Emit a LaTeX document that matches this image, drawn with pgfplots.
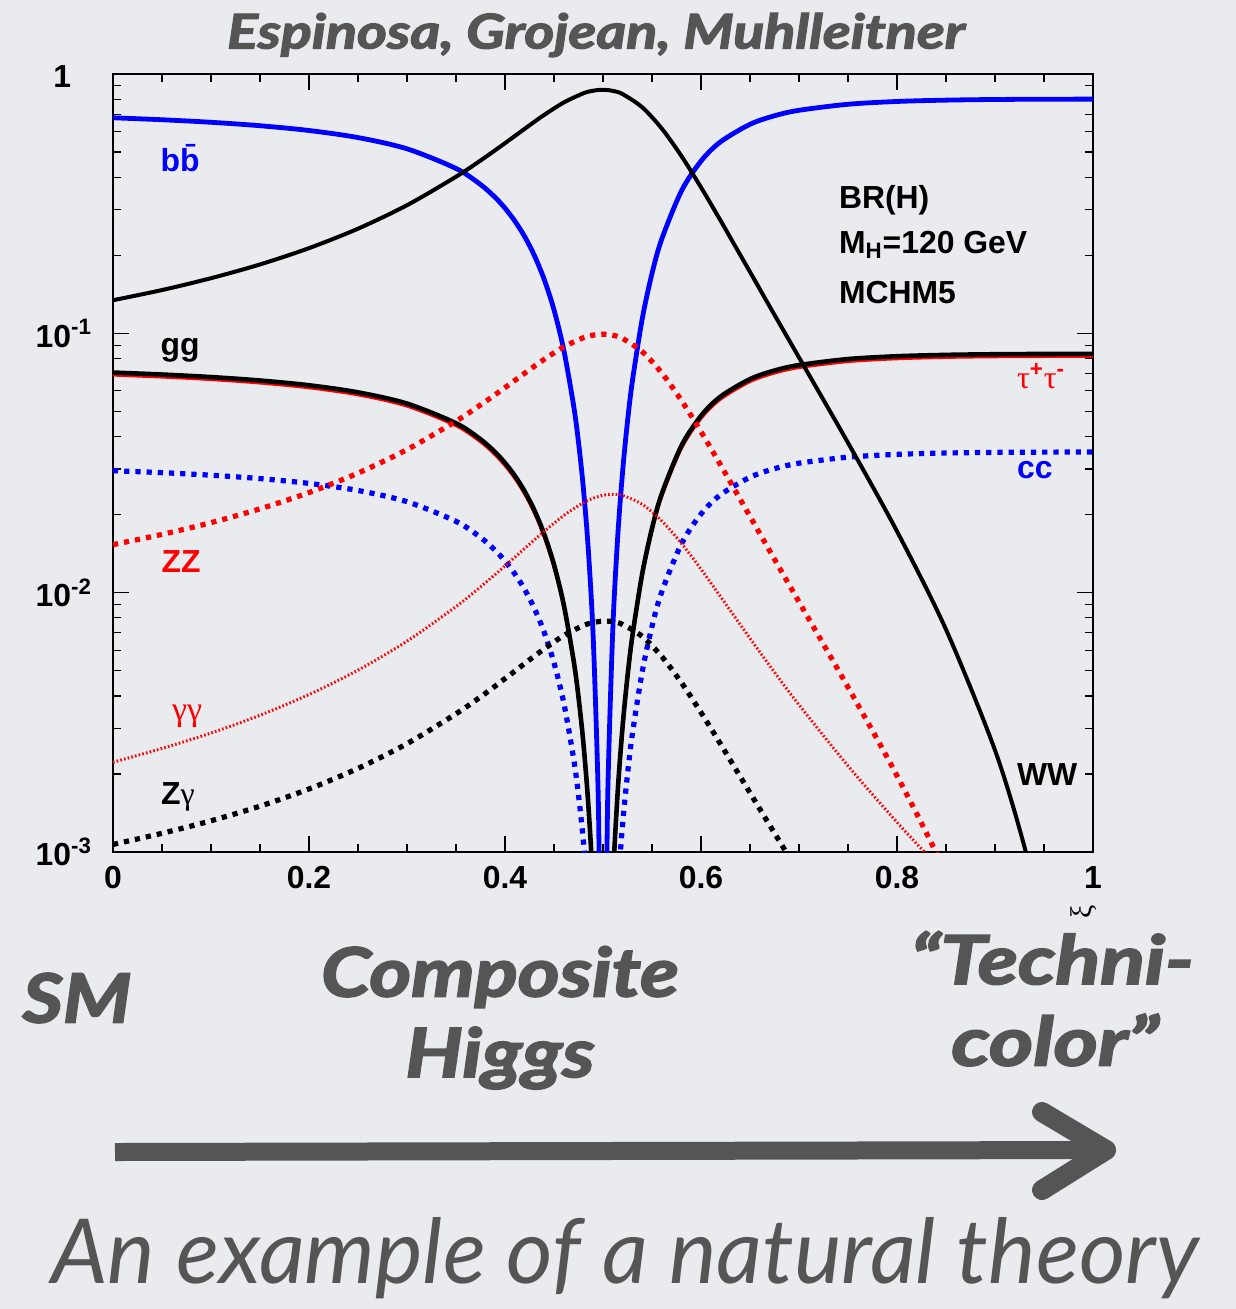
\documentclass[border=0pt]{standalone}
\usepackage{fontspec}
\usepackage{graphicx}
\usepackage{pgfplots}
\usepackage{pgfplotstable}
\pgfplotsset{compat=1.18}
\setmainfont{Liberation Sans}
\newfontfamily\gill{Lato}[BoldItalicFeatures={FakeBold=2.5}]
\newfontfamily\gilllight{Lato}
\newfontfamily\sym{Liberation Serif}
\definecolor{bg}{RGB}{234,235,239}
\definecolor{slate}{RGB}{85,85,85}
\definecolor{rootblue}{RGB}{0,0,255}
\definecolor{rootred}{RGB}{255,0,0}
\newcommand{\pf}{\fontsize{16}{18}\selectfont\bfseries}
\newcommand{\slidefont}{\gill\bfseries\itshape\fontsize{34}{40}\selectfont}

% fermionic channels (zero at xi = 0.5)
\pgfplotstableread{
x bb tt cc gg
0      0.678    0.0691    0.02954   0.0706
0.05   0.6663   0.0679    0.02903   0.06939
0.1    0.6514   0.06639   0.02838   0.06783
0.15   0.6319   0.0644    0.02754   0.0658
0.2    0.6056   0.06172   0.02639   0.06306
0.25   0.5687   0.05796   0.02478   0.05922
0.3    0.5147   0.05246   0.02243   0.0536
0.35   0.4323   0.04406   0.01884   0.04502
0.375  0.375    0.03822   0.01634   0.03905
0.39   0.3341   0.03405   0.01456   0.03479
0.4    0.3038   0.03096   0.01324   0.03164
0.41   0.2712   0.02764   0.01182   0.02824
0.42   0.2363   0.02408   0.0103    0.0246
0.43   0.1994   0.02033   0.00869   0.02077
0.44   0.1614   0.01645   0.007032  0.0168
0.45   0.1231   0.01255   0.005364  0.01282
0.46   0.08615  0.008781  0.003754  0.008972
0.47   0.05265  0.005366  0.002294  0.005482
0.475  0.03798  0.003871  0.001655  0.003955
0.48   0.02519  0.002567  0.001098  0.002623
0.485  0.01464  0.001492  0.000638  0.001524
0.49   0.0067   0.000683  0.000292  0.000698
0.495  0.001719 0.000175  0.000075  0.000179
0.4975 0.000435 0.0000443 0.0000189 0.0000453
0.5025 0.000443 0.0000452 0.0000193 0.0000462
0.505  0.001788 0.000182  0.000078  0.000186
0.51   0.007247 0.000739  0.000316  0.000755
0.515  0.01645  0.001676  0.000717  0.001713
0.52   0.02935  0.002991  0.001279  0.003056
0.525  0.04582  0.00467   0.001997  0.004771
0.53   0.06561  0.006687  0.002859  0.006832
0.54   0.1137   0.01159   0.004955  0.01184
0.55   0.1703   0.01736   0.00742   0.01773
0.56   0.2314   0.02359   0.01009   0.0241
0.58   0.3539   0.03607   0.01542   0.03685
0.6    0.4617   0.04706   0.02012   0.04808
0.62   0.548    0.05585   0.02388   0.05707
0.65   0.6399   0.06521   0.02788   0.06663
0.675  0.6903   0.07036   0.03008   0.07189
0.7    0.7247   0.07386   0.03158   0.07547
0.75   0.7645   0.07791   0.03331   0.07961
0.8    0.7837   0.07987   0.03415   0.08161
0.85   0.7931   0.08083   0.03456   0.08259
0.9    0.7977   0.0813    0.03476   0.08307
0.95   0.7996   0.0815    0.03484   0.08327
1      0.8001   0.08154   0.03486   0.08332
}\ferm

% bosonic channels
\pgfplotstableread{
x WW ZZ aa Za
0     0.1342   0.01532  0.00222  0.00107
0.05  0.1469   0.01678  0.002508 0.001181
0.1   0.1632   0.01863  0.002877 0.00132
0.15  0.1844   0.02106  0.003369 0.001503
0.2   0.2131   0.02433  0.004049 0.001751
0.25  0.2533   0.02892  0.005028 0.002102
0.3   0.312    0.03563  0.006503 0.002618
0.35  0.4017   0.04586  0.008845 0.003413
0.375 0.4639   0.05297  0.01053  0.003966
0.39  0.5084   0.05804  0.01176  0.004366
0.4   0.5412   0.06179  0.01268  0.004665
0.41  0.5766   0.06584  0.0137   0.004982
0.42  0.6145   0.07016  0.0148   0.005329
0.43  0.6544   0.07472  0.01599  0.005697
0.44  0.6956   0.07942  0.01724  0.006072
0.46  0.7769   0.08871  0.01985  0.00684
0.48  0.8426   0.09621  0.02224  0.007473
0.49  0.8624   0.09846  0.02314  0.007672
0.5   0.8692   0.09925  0.02374  0.007771
0.51  0.861    0.0983   0.02394  0.007736
0.52  0.8366   0.09552  0.0237   0.007544
0.54  0.7442   0.08497  0.02191  0.006785
0.56  0.6159   0.07032  0.01891  0.005672
0.58  0.4827   0.05511  0.0155   0.004502
0.6   0.3655   0.04174  0.01232  0.003451
0.62  0.2719   0.03105  0.009644 0.002606
0.65  0.1724   0.01968  0.006664 0.001691
0.675 0.1178   0.01345  0.004932 0.001182
0.7   0.08068  0.009212 0.003695 0.000831
0.75  0.03783  0.004319 0.002149 0.000417
0.8   0.01724  0.001968 0.001302 0.000209
0.85  0.007208 0.000823 0.000813 0.0001
0.9   0.002467 0.000282 0.0005   0.00005
0.93  0.001048 0.00012  0.00035  0.00003
0.95  0.000489 0.000056 0.0003   0.00002
}\bos

\begin{document}
\begin{tikzpicture}
\begin{scope}[x=0.5bp,y=-0.5bp]
\fill[bg] (0,0) rectangle (1236,1309);
\path[use as bounding box] (0,0) rectangle (1236,1309);
\end{scope}

\begin{axis}[
  at={(56.5bp,-426bp)}, anchor=south west,
  scale only axis, width=490bp, height=389bp,
  xmin=0, xmax=1, ymode=log, ymin=1e-3, ymax=1,
  axis line style={line width=0.8bp},
  tick style={black, line width=0.6bp},
  major tick length=8bp, minor tick length=4bp,
  tick align=inside, xtick pos=both, ytick pos=both,
  xtick={0,0.2,0.4,0.6,0.8,1},
  xticklabels={0,0.2,0.4,0.6,0.8,1},
  minor x tick num=3,
  ytick={0.001,0.01,0.1,1},
  yticklabels={10\textsuperscript{-3},10\textsuperscript{-2},10\textsuperscript{-1},1\phantom{\textsuperscript{-1}}},
  ticklabel style={font=\pf},
  xticklabel style={yshift=-3.5bp},
  yticklabel style={xshift=-7bp},
  every axis plot/.append style={smooth, tension=0.5, line join=round},
]
\addplot[rootblue, line width=2.4bp] table[x=x,y=bb]{\ferm};
\addplot[rootred, line width=1.6bp] table[x=x,y=tt]{\ferm};
\addplot[black, line width=2.3bp] table[x=x,y=gg]{\ferm};
\addplot[rootblue, line width=2.6bp, dash pattern=on 2.6bp off 3bp] table[x=x,y=cc]{\ferm};
\addplot[black, line width=2bp] table[x=x,y=WW]{\bos};
\addplot[rootred, line width=2.6bp, dash pattern=on 2.6bp off 3bp] table[x=x,y=ZZ]{\bos};
\addplot[rootred, line width=1.5bp, dash pattern=on 0.8bp off 1.1bp] table[x=x,y=aa]{\bos};
\addplot[black, line width=2.6bp, dash pattern=on 2.6bp off 3bp] table[x=x,y=Za]{\bos};
\end{axis}

\begin{scope}[x=0.5bp,y=-0.5bp]
% in-plot labels
\node[rootblue, font=\pf] at (180,158) {b\={b}};
\node[font=\pf] at (180,350) {gg};
\node[rootred, font=\pf] at (181,562) {ZZ};
\node[rootred, font=\sym\fontsize{17}{18}\selectfont] at (187,716) {γγ};
\node[font=\pf] at (178,797) {Z{\sym\mdseries γ}};
\node[font=\pf, anchor=west] at (832,200) {BR(H)};
\node[font=\pf, anchor=west] at (832,245) {M\textsubscript{H}=120 GeV};
\node[font=\pf, anchor=west] at (832,293) {MCHM5};
\node[rootred, font=\pf, anchor=west] at (1010,376) {{\sym\mdseries τ}\textsuperscript{+}{\sym\mdseries τ}\textsuperscript{-}};
\node[rootblue, font=\pf, anchor=west] at (1010,470) {cc};
\node[font=\pf, anchor=west] at (1010,775) {WW};
\node[rotate=90, font=\sym\fontsize{15}{16}\selectfont] at (1084,912) {ξ};

% slide texts
\node[slate, font=\gill\bfseries\itshape\fontsize{24}{28}\selectfont] at (596,35) {\scalebox{1.2}[1]{Espinosa, Grojean, Muhlleitner}};
\node[slate, font=\slidefont] at (77,998) {\scalebox{1.15}[1]{SM}};
\node[slate, font=\slidefont] at (500,977) {\scalebox{1.18}[1]{Composite}};
\node[slate, font=\slidefont] at (500,1058) {\scalebox{1.18}[1]{Higgs}};
\node[slate, font=\slidefont] at (1052,958) {\scalebox{1.22}[1]{“Techni-}};
\node[slate, font=\slidefont] at (1055,1040) {\scalebox{1.25}[1]{color”}};

% arrow
\draw[slate, line width=9bp] (115,1152) -- (1095,1150);
\draw[slate, line width=10bp, line cap=round, line join=round] (1042,1112) -- (1106,1150) -- (1042,1190);

\node[slate, font=\gilllight\itshape\fontsize{45}{50}\selectfont] at (625,1258) {An example of a natural theory};
\end{scope}
\end{tikzpicture}
\end{document}
